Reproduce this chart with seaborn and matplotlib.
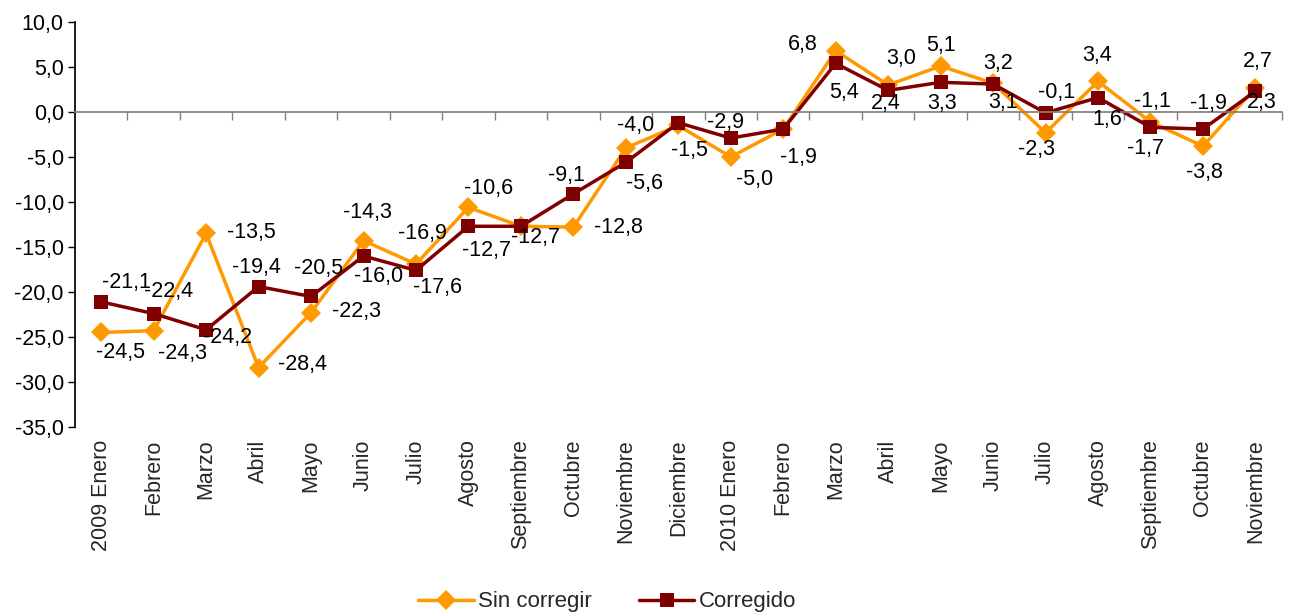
import pandas as pd
import numpy as np
import matplotlib.pyplot as plt
import matplotlib.ticker as mticker
import seaborn as sns

# ── Data ─────────────────────────────────────────────────────────────────────
meses = ["2009 Enero", "Febrero", "Marzo", "Abril", "Mayo", "Junio", "Julio",
         "Agosto", "Septiembre", "Octubre", "Noviembre", "Diciembre",
         "2010 Enero", "Febrero", "Marzo", "Abril", "Mayo", "Junio", "Julio",
         "Agosto", "Septiembre", "Octubre", "Noviembre"]

sin_corregir = [-24.5, -24.3, -13.5, -28.4, -22.3, -14.3, -16.9, -10.6, -12.7,
                -12.8, -4.0, -1.5, -5.0, -1.9, 6.8, 3.0, 5.1, 3.2, -2.3, 3.4,
                -1.1, -3.8, 2.7]
corregido = [-21.1, -22.4, -24.2, -19.4, -20.5, -16.0, -17.6, -12.7, -12.7,
             -9.1, -5.6, -1.2, -2.9, -1.9, 5.4, 2.4, 3.3, 3.1, -0.1, 1.6,
             -1.7, -1.9, 2.3]

# label offsets in pixels (dx, dy); None = label not shown
off_sin = [(19, -20), (29, -23), (45, 1), (44, 3), (45, 1), (4, 28), (6, 31),
           (20, 19), None, (45, 0), (10, 22), (11, -25), (24, -23), (15, -28),
           (-33, 6), (13, 26), (0, 21), (5, 20), (-9, -17), (-1, 26), (2, 20),
           (1, -26), (2, 26)]
off_cor = [(25, 19), (15, 22), (21, -8), (-2, 19), (8, 28), (15, -21), (22, -17),
           (18, -24), (15, -11), (-7, 18), (19, -21), None, (-5, 16), None,
           (8, -29), (-2, -13), (1, -21), (10, -18), (11, 20), (9, -22),
           (-5, -21), (5, 26), (6, -11)]

ORANGE = "#FF9900"
RED = "#800000"
FS = 15.5

sns.set_theme(style="white")
plt.rcParams["font.family"] = ["Liberation Sans", "DejaVu Sans"]

n = len(meses)
pos = np.arange(n)
df = pd.DataFrame({
    "pos": np.concatenate([pos, pos]),
    "valor": sin_corregir + corregido,
    "serie": ["Sin corregir"] * n + ["Corregido"] * n,
})

fig = plt.figure(figsize=(12.92, 6.14), dpi=100)
ax = fig.add_axes([0.058, 0.3046, 0.934, 0.6596])

sns.lineplot(data=df, x="pos", y="valor", hue="serie", style="serie",
             palette={"Sin corregir": ORANGE, "Corregido": RED},
             markers={"Sin corregir": "D", "Corregido": "s"},
             dashes=False, linewidth=2.5, markersize=10.5, markeredgewidth=0,
             ax=ax)

fmt = lambda v: f"{v:.1f}".replace(".", ",")

for vals, offs in [(sin_corregir, off_sin), (corregido, off_cor)]:
    for i, (v, o) in enumerate(zip(vals, offs)):
        if o is None:
            continue
        ax.annotate(fmt(v), (i, v), xytext=o, textcoords="offset pixels",
                    ha="center", va="center", fontsize=FS, color="black")

ax.set_xlim(-0.5, n - 0.5)
ax.set_ylim(-35, 10)
ax.yaxis.set_major_locator(mticker.MultipleLocator(5))
ax.yaxis.set_major_formatter(mticker.FuncFormatter(lambda v, _: fmt(v)))
ax.tick_params(axis="y", direction="out", length=5, width=1, color="black",
               labelsize=FS, labelcolor="black", left=True, pad=3)

# x axis line at zero, ticks between categories
for s in ["top", "right"]:
    ax.spines[s].set_visible(False)
ax.spines["bottom"].set_position(("data", 0))
ax.spines["bottom"].set_color("#808080")
ax.spines["left"].set_color("black")
ax.set_xticks(np.arange(n) + 0.5)
ax.set_xticklabels([])
ax.tick_params(axis="x", direction="out", length=6, width=1, color="#808080",
               bottom=True)
ax.set_xlabel("")
ax.set_ylabel("")

# category labels under the plot area
sec = ax.secondary_xaxis(0.0)
sec.set_xticks(pos)
sec.set_xticklabels(meses, rotation=90, fontsize=FS)
sec.tick_params(length=0, pad=9)
sec.spines["bottom"].set_visible(False)

ax.legend_.remove()
handles, labels = ax.get_legend_handles_labels()
fig.legend(handles, labels, loc="lower center", bbox_to_anchor=(0.47, -0.03),
           ncol=2, frameon=False, fontsize=16, handlelength=2.5,
           columnspacing=2.1, handletextpad=0.2)

plt.savefig("out.png", dpi=100)
